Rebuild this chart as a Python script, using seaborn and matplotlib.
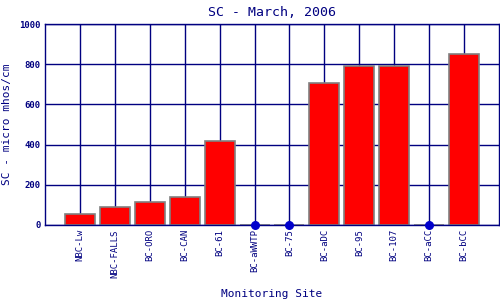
import matplotlib
matplotlib.use("Agg")
import matplotlib.pyplot as plt
import seaborn as sns
import pandas as pd
import numpy as np

sites = ["NBC-Lw", "NBC-FALLS", "BC-ORO", "BC-CAN", "BC-61", "BC-aWWTP", "BC-75",
         "BC-aDC", "BC-95", "BC-107", "BC-aCC", "BC-bCC"]
sc_values = [53, 88, 113, 138, 416, 0, 0, 705, 790, 790, 0, 849]
yticks = [0, 200, 400, 600, 800, 1000]

navy = "#000080"
sns.set_theme(style="white")
plt.rcParams['font.family'] = ['DejaVu Sans Mono']

df = pd.DataFrame({"site": sites, "sc": sc_values})

fig = plt.figure(figsize=(5, 3), dpi=100)
ax = fig.add_axes([0.09, 0.25, 0.908, 0.67])

sns.barplot(data=df, x="site", y="sc", color="#ff0000", saturation=1, width=0.86,
            edgecolor="#808080", linewidth=1.2, ax=ax, zorder=2)

ax.set_axisbelow(True)
ax.grid(True, axis="both", color=navy, linewidth=1.0)
ax.xaxis.grid(True, color=navy, linewidth=1.0)

zero = df[df["sc"] == 0]
xs = [sites.index(s) for s in zero["site"]]
ax.scatter(xs, zero["sc"], s=30, color="#0000cc", zorder=5, clip_on=False)

ax.set_xlim(-1, 12)
ax.set_ylim(0, 1000)
ax.set_yticks(yticks)
ax.set_yticklabels([str(v) for v in yticks], fontsize=6.5, color=navy, fontweight="bold")
ax.set_xticks(range(len(sites)))
ax.set_xticklabels(sites, rotation=90, fontsize=6.5, color=navy)
ax.tick_params(axis="both", length=0, pad=3)
for sp in ax.spines.values():
    sp.set_color(navy)
    sp.set_linewidth(1.0)

ax.set_title("SC - March, 2006", fontsize=9.5, color=navy, pad=6)
ax.set_ylabel("SC - micro mhos/cm", fontsize=8, color=navy, labelpad=5)
ax.set_xlabel("Monitoring Site", fontsize=8, color=navy, labelpad=8)

fig.savefig("out.png", dpi=100)
